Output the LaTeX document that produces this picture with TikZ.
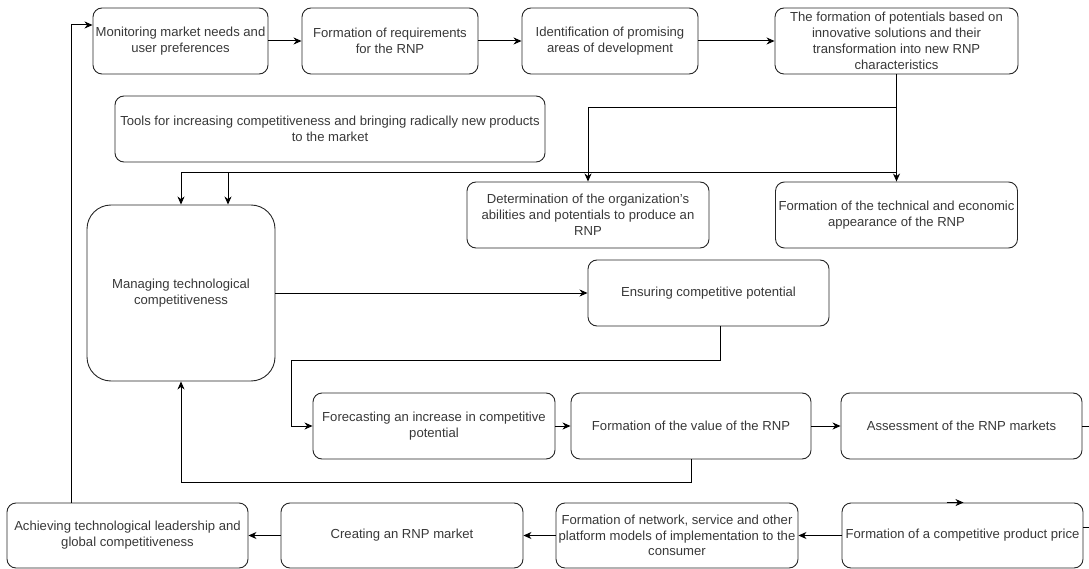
\documentclass[tikz,border=0pt]{standalone}
\usepackage{fontspec}
\setmainfont{Liberation Sans}
\usetikzlibrary{arrows.meta}
\begin{document}
\begin{tikzpicture}[x=1pt,y=-1pt,
 box/.style={draw=black!85, line width=0.9pt, rounded corners=9pt, align=center, inner sep=0pt, text=black!78, font=\fontsize{13.1}{15.8}\selectfont, minimum height=66pt},
 conn/.style={line width=1pt, draw=black},
 arr/.style={conn, -{Stealth[length=8pt,width=7pt,inset=2.5pt]}}]
\useasboundingbox (0,0) rectangle (1089,569);
% top row
\node[box, minimum width=175pt] (m1) at (180.5,41) {Monitoring market needs and\\user preferences};
\node[box, minimum width=176pt] (m2) at (390,41) {Formation of requirements\\for the RNP};
\node[box, minimum width=176pt] (m3) at (610,41) {Identification of promising\\areas of development};
\node[box, minimum width=243pt] (m4) at (896.5,41) {The formation of potentials based on\\innovative solutions and their\\transformation into new RNP\\characteristics};
% tools
\node[box, minimum width=430pt] (tools) at (330,129) {Tools for increasing competitiveness and bringing radically new products\\to the market};
% middle
\node[box, minimum width=188pt, minimum height=176pt, rounded corners=24pt] (mng) at (181,293) {Managing technological\\competitiveness};
\node[box, minimum width=242pt] (det) at (588,215) {Determination of the organization's\\abilities and potentials to produce an\\RNP};
\node[box, minimum width=242pt] (tech) at (896.5,215) {Formation of the technical and economic\\appearance of the RNP};
\node[box, minimum width=241pt] (ens) at (708.5,293) {Ensuring competitive potential};
\node[box, minimum width=242pt] (fore) at (434,426) {Forecasting an increase in competitive\\potential};
\node[box, minimum width=240pt] (val) at (691,426) {Formation of the value of the RNP};
\node[box, minimum width=241pt] (asm) at (961.5,426) {Assessment of the RNP markets};
% bottom row
\node[box, minimum width=241pt, minimum height=65pt] (ach) at (127.5,535.5) {Achieving technological leadership and\\global competitiveness};
\node[box, minimum width=242pt, minimum height=65pt] (cre) at (402,535.5) {Creating an RNP market};
\node[box, minimum width=242pt, minimum height=65pt] (net) at (677,535.5) {Formation of network, service and other\\platform models of implementation to the\\consumer};
\node[box, minimum width=241pt, minimum height=65pt] (pr) at (962.5,535.5) {Formation of a competitive product price};
% helper coordinates
\coordinate (lt) at (71,25);
\coordinate (j) at (896.5,173);
\coordinate (j2) at (228,173);
\coordinate (e1) at (291,360);
\coordinate (fb) at (181,482);
% connectors
\draw[arr] (m1) -- (m2);
\draw[arr] (m2) -- (m3);
\draw[arr] (m3) -- (m4);
\draw[arr] (m4.south) -- ++(0,33) -| (det.north);
\draw[arr] (m4.south) -- (tech.north);
\draw[arr] (j) -| (mng.north);
\draw[arr] (j2) -- (j2 |- mng.north);
\draw[arr] (mng.east |- ens.west) -- (ens.west);
\draw[arr] ([xshift=11.5pt]ens.south) |- (e1) |- (fore.west);
\draw[arr] (fore) -- (val);
\draw[arr] (val) -- (asm);
\draw[arr] (val.south) |- (fb) -- (mng.south);
\draw[arr] (pr) -- (net);
\draw[arr] (net) -- (cre);
\draw[arr] (cre) -- (ach);
\draw[arr] (ach.north -| lt) -- (lt) -- (lt -| m1.west);
\draw[conn] (asm.east) -- ++(7,0);
\draw[conn] ([yshift=8pt]pr.east) -- ++(7,0);
\draw[arr] ([xshift=-16pt]pr.north) -- ([xshift=1pt]pr.north);
\end{tikzpicture}
\end{document}
